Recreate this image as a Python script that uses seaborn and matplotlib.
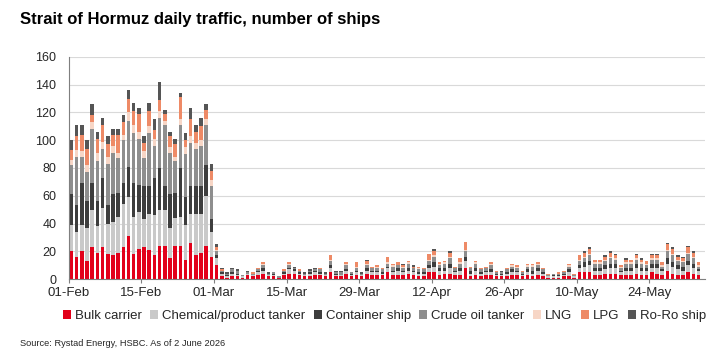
import matplotlib.pyplot as plt
import seaborn as sns
import pandas as pd
from matplotlib.patches import Patch

sns.set_style('ticks')
plt.rcParams['font.family'] = ['Liberation Sans', 'DejaVu Sans']

# daily number of ships by type, 01-Feb to 02-Jun 2026
bulk_carrier = [20, 16, 20, 13, 23, 19, 23, 18, 17, 19, 23, 31, 18, 22,
                23, 21, 17, 24, 24, 15, 24, 24, 14, 26, 17, 19, 24, 16,
                10, 2, 1, 2, 2, 1, 3, 2, 3, 4,
                2, 2, 1, 3, 4, 4, 3, 2, 2, 3,
                3, 2, 5, 2, 2, 4, 2, 3, 2, 4,
                3, 3, 3, 5, 3, 3, 3, 4, 3, 2,
                2, 5, 5, 3, 4, 4, 3, 3, 8, 2,
                3, 2, 3, 3, 2, 2, 2, 3, 3, 2,
                3, 2, 3, 2, 1, 1, 1, 2, 2, 1,
                5, 5, 5, 3, 3, 4, 4, 4, 3, 3,
                3, 4, 3, 3, 5, 4, 3, 6, 4, 3,
                3, 5, 4, 3]
chemical_tanker = [19, 18, 19, 24, 27, 19, 28, 22, 24, 26, 31, 28, 27, 26,
                   20, 26, 29, 26, 26, 22, 20, 21, 25, 21, 30, 28, 36, 18,
                   5, 2, 1, 2, 1, 1, 1, 1, 2, 2,
                   1, 1, 0, 1, 3, 2, 1, 1, 2, 2,
                   1, 1, 3, 1, 1, 2, 1, 2, 1, 2,
                   2, 2, 1, 3, 2, 3, 2, 2, 2, 2,
                   2, 3, 4, 3, 2, 4, 2, 3, 5, 2,
                   3, 2, 2, 2, 1, 1, 2, 2, 2, 1,
                   2, 2, 3, 2, 1, 1, 1, 1, 3, 1,
                   3, 4, 5, 3, 3, 3, 4, 4, 2, 3,
                   3, 4, 3, 3, 3, 4, 3, 5, 5, 4,
                   3, 5, 4, 3]
container_ship = [22, 19, 30, 19, 19, 18, 22, 13, 20, 17, 15, 22, 24, 20,
                  24, 20, 27, 30, 17, 24, 18, 35, 20, 20, 20, 20, 22, 9,
                  2, 1, 1, 1, 1, 0, 0, 0, 1, 2,
                  0, 1, 0, 1, 1, 1, 1, 0, 1, 1,
                  1, 0, 2, 1, 0, 1, 1, 1, 0, 2,
                  1, 1, 1, 1, 1, 2, 1, 2, 1, 1,
                  1, 2, 3, 2, 2, 3, 1, 2, 3, 2,
                  2, 1, 1, 2, 1, 1, 1, 2, 1, 1,
                  2, 2, 2, 1, 0, 1, 1, 1, 2, 0,
                  2, 3, 3, 2, 2, 3, 3, 3, 1, 2,
                  2, 3, 2, 2, 3, 3, 1, 4, 3, 3,
                  3, 3, 3, 1]
crude_tanker = [21, 35, 19, 21, 39, 29, 21, 30, 30, 25, 31, 33, 36, 33,
                20, 38, 23, 36, 44, 30, 23, 31, 31, 31, 27, 29, 29, 24,
                3, 1, 1, 2, 2, 1, 1, 1, 1, 2,
                1, 1, 1, 1, 2, 1, 1, 1, 1, 1,
                2, 1, 3, 1, 2, 3, 1, 2, 1, 2,
                2, 2, 2, 2, 3, 2, 2, 3, 2, 2,
                2, 3, 4, 2, 3, 4, 2, 3, 4, 2,
                3, 2, 2, 3, 1, 1, 2, 2, 2, 1,
                2, 3, 2, 2, 1, 1, 1, 1, 2, 1,
                3, 3, 4, 3, 3, 3, 4, 3, 2, 3,
                3, 3, 3, 2, 3, 3, 2, 5, 5, 3,
                3, 5, 4, 2]
lng = [4, 5, 4, 5, 5, 6, 5, 5, 5, 4, 4, 6, 6, 5,
       5, 5, 5, 5, 3, 4, 3, 4, 5, 5, 4, 4, 4, 4,
       1, 0, 0, 0, 0, 0, 0, 0, 0, 1,
       0, 0, 0, 0, 1, 0, 0, 0, 0, 0,
       0, 0, 1, 0, 0, 1, 0, 1, 0, 1,
       0, 1, 0, 1, 1, 0, 1, 1, 0, 1,
       0, 1, 1, 1, 1, 1, 0, 1, 1, 0,
       1, 0, 0, 1, 0, 0, 0, 1, 1, 0,
       1, 1, 1, 0, 0, 0, 0, 0, 1, 0,
       1, 1, 1, 1, 1, 1, 1, 1, 1, 1,
       1, 1, 1, 1, 1, 1, 1, 1, 1, 1,
       1, 1, 1, 1]
lpg = [7, 10, 12, 12, 5, 10, 12, 9, 8, 13, 9, 10, 10, 13,
       6, 11, 6, 8, 5, 8, 9, 16, 5, 12, 8, 10, 7, 7,
       2, 1, 0, 0, 0, 0, 0, 1, 1, 1,
       0, 0, 0, 1, 1, 0, 1, 0, 0, 0,
       1, 0, 3, 0, 0, 1, 0, 3, 0, 2,
       1, 1, 1, 4, 1, 2, 1, 1, 1, 1,
       1, 4, 3, 1, 1, 3, 1, 3, 6, 1,
       1, 1, 1, 1, 1, 0, 1, 1, 1, 1,
       1, 1, 1, 1, 1, 0, 1, 1, 1, 1,
       3, 3, 4, 2, 2, 2, 3, 2, 1, 2,
       2, 2, 2, 2, 2, 2, 2, 4, 4, 2,
       2, 4, 3, 2]
roro_ship = [7, 8, 7, 6, 8, 5, 5, 6, 4, 4, 5, 6, 6, 4,
             5, 6, 8, 13, 3, 3, 4, 3, 5, 8, 5, 6, 4, 5,
             2, 1, 1, 1, 1, 0, 1, 0, 0, 0,
             1, 0, 0, 0, 0, 1, 0, 1, 1, 1,
             0, 1, 0, 1, 1, 0, 0, 0, 1, 1,
             0, 0, 0, 0, 0, 0, 1, 0, 1, 0,
             0, 0, 2, 0, 0, 1, 0, 0, 0, 0,
             0, 0, 0, 0, 0, 1, 0, 0, 0, 0,
             0, 0, 0, 0, 0, 0, 0, 0, 0, 0,
             0, 1, 1, 0, 0, 1, 1, 1, 0, 1,
             0, 1, 1, 0, 1, 1, 0, 1, 1, 1,
             1, 1, 1, 0]

ship_types = ['Bulk carrier', 'Chemical/product tanker', 'Container ship',
              'Crude oil tanker', 'LNG', 'LPG', 'Ro-Ro ship']
colors = ['#E2001A', '#C9C9C9', '#3D3D3D', '#8E8E8E', '#F7D6C6',
          '#EE8A66', '#555555']
tick_labels = ['01-Feb', '15-Feb', '01-Mar', '15-Mar', '29-Mar', '12-Apr',
               '26-Apr', '10-May', '24-May']

start = pd.Timestamp('2026-02-01')
df = pd.DataFrame(dict(zip(ship_types,
                           [bulk_carrier, chemical_tanker, container_ship,
                            crude_tanker, lng, lpg, roro_ship])))
df['day'] = range(len(df))
long_df = df.melt(id_vars='day', var_name='type', value_name='ships')

fig = plt.figure(figsize=(7.25, 3.62), dpi=100)
ax = fig.add_axes([0.095, 0.229, 0.877, 0.614])

# seaborn stacks the first hue level on top, so reverse the order
sns.histplot(data=long_df, x='day', weights='ships', hue='type',
             hue_order=ship_types[::-1],
             palette=dict(zip(ship_types, colors)),
             multiple='stack', discrete=True, shrink=0.68,
             element='bars', linewidth=0, alpha=1, legend=False, ax=ax)

tick_days = [(pd.to_datetime(t + '-2026', format='%d-%b-%Y') - start).days
             for t in tick_labels]
ax.set_xticks([d - 0.5 for d in tick_days])
ax.set_xticklabels(tick_labels)
ax.set_xlim(-0.5, len(df) + 0.2)
ax.set_ylim(0, 160)
ax.set_yticks(range(0, 161, 20))
ax.set_xlabel('')
ax.set_ylabel('')
ax.grid(axis='y', color='#D9D9D9', linewidth=0.8)
ax.set_axisbelow(True)
sns.despine(ax=ax)
for side in ['left', 'bottom']:
    ax.spines[side].set_color('#7F7F7F')
    ax.spines[side].set_linewidth(0.8)
ax.tick_params(axis='y', length=0, labelsize=9, labelcolor='#262626', pad=9)
ax.tick_params(axis='x', length=3, width=0.8, color='#7F7F7F',
               labelsize=9.5, labelcolor='#262626', pad=3)

fig.text(0.027, 0.945, 'Strait of Hormuz daily traffic, number of ships',
         fontsize=12, fontweight='bold', va='center', color='#000000')

handles = [Patch(facecolor=c, edgecolor='none') for c in colors]
fig.legend(handles, ship_types, loc='center', bbox_to_anchor=(0.53, 0.127),
           ncol=7, frameon=False, fontsize=9.5, handlelength=0.6,
           handleheight=0.6, handletextpad=0.3, columnspacing=0.65)

fig.text(0.027, 0.052, 'Source: Rystad Energy, HSBC. As of 2 June 2026',
         fontsize=6.7, va='center', color='#262626')

plt.savefig('out.png', dpi=100)
plt.close('all')
